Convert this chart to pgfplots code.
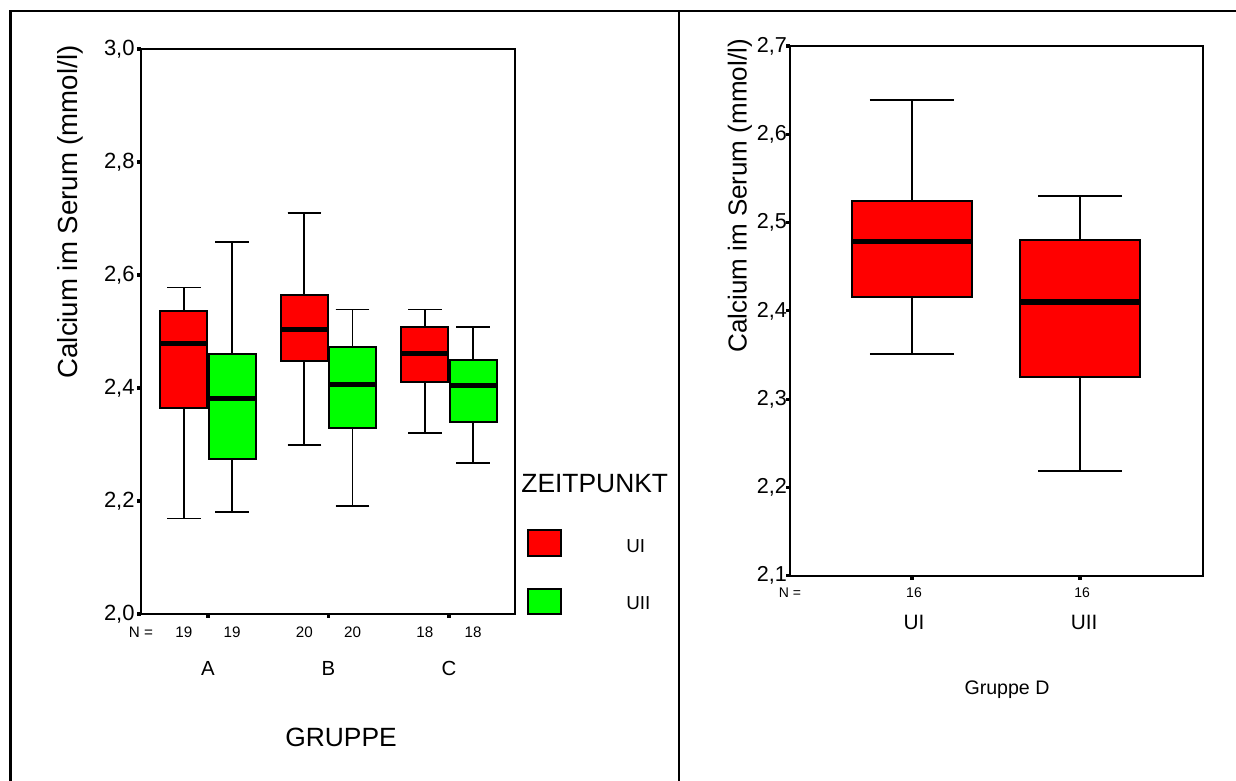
\documentclass[border=0pt]{standalone}
\usepackage{pgfplots}
\pgfplotsset{compat=1.18}
\usepgfplotslibrary{statistics}
\usepackage{fontspec}
\setmainfont{Liberation Sans}
\definecolor{spssred}{RGB}{255,0,0}
\definecolor{spssgreen}{RGB}{0,255,0}
\newcommand{\fs}[1]{\fontsize{#1}{#1}\selectfont}
\pgfplotsset{
  spss/.style={
    scale only axis, clip=false,
    axis line style={line width=1pt},
    tick align=outside,
    major tick length=2pt,
    tick style={black, line width=1.6pt},
    xtick pos=left, ytick pos=left,
    xticklabels={},
    boxplot/draw direction=y,
    boxplot/every box/.style={draw=black, line width=1pt},
    boxplot/every whisker/.style={black, line width=0.9pt},
    boxplot/every median/.style={black, line width=2.6pt},
    yticklabel style={/pgf/number format/.cd, fixed, fixed zerofill, precision=1, use comma, assume math mode=true, /tikz/.cd, anchor=east, inner sep=0pt},
  }
}
\begin{document}
\begin{tikzpicture}
\path[use as bounding box] (0,0) rectangle (618pt,390.5pt);
% frame
\draw[line width=1.3pt] (5.2pt,0) -- (5.2pt,385pt) -- (618pt,385pt);
\draw[line width=1.2pt] (339.5pt,0) -- (339.5pt,385pt);

% ---------------- left panel ----------------
\begin{axis}[spss, at={(70.5pt,83.5pt)}, anchor=south west,
  width=187pt, height=282.5pt,
  xmin=0.444, xmax=3.548, ymin=2.0, ymax=3.0,
  ytick={2,2.2,2.4,2.6,2.8,3},
  xtick={1,2,3},
  yticklabel style={font=\fs{11}, xshift=-1pt},
]
% Gruppe A
\addplot[fill=spssred, draw=black, boxplot prepared={draw position=0.8,
  lower whisker=2.169, lower quartile=2.365, median=2.479, upper quartile=2.536, upper whisker=2.578,
  box extend=0.39, whisker extend=0.28}] coordinates {};
\addplot[fill=spssgreen, draw=black, boxplot prepared={draw position=1.2,
  lower whisker=2.181, lower quartile=2.274, median=2.382, upper quartile=2.460, upper whisker=2.659,
  box extend=0.39, whisker extend=0.28}] coordinates {};
% Gruppe B
\addplot[fill=spssred, draw=black, boxplot prepared={draw position=1.8,
  lower whisker=2.299, lower quartile=2.448, median=2.503, upper quartile=2.564, upper whisker=2.710,
  box extend=0.39, whisker extend=0.28}] coordinates {};
\addplot[fill=spssgreen, draw=black, boxplot prepared={draw position=2.2,
  lower whisker=2.191, lower quartile=2.330, median=2.406, upper quartile=2.473, upper whisker=2.539,
  box extend=0.39, whisker extend=0.28}] coordinates {};
% Gruppe C
\addplot[fill=spssred, draw=black, boxplot prepared={draw position=2.8,
  lower whisker=2.320, lower quartile=2.411, median=2.461, upper quartile=2.508, upper whisker=2.539,
  box extend=0.39, whisker extend=0.28}] coordinates {};
\addplot[fill=spssgreen, draw=black, boxplot prepared={draw position=3.2,
  lower whisker=2.267, lower quartile=2.340, median=2.405, upper quartile=2.449, upper whisker=2.508,
  box extend=0.39, whisker extend=0.28}] coordinates {};

\node[anchor=base, font=\fs{7.6}] at ([yshift=-12pt]axis cs:0.444,2) {N =};
\node[anchor=base, font=\fs{7.6}] at ([yshift=-12pt]axis cs:0.8,2) {19};
\node[anchor=base, font=\fs{7.6}] at ([yshift=-12pt]axis cs:1.2,2) {19};
\node[anchor=base, font=\fs{7.6}] at ([yshift=-12pt]axis cs:1.8,2) {20};
\node[anchor=base, font=\fs{7.6}] at ([yshift=-12pt]axis cs:2.2,2) {20};
\node[anchor=base, font=\fs{7.6}] at ([yshift=-12pt]axis cs:2.8,2) {18};
\node[anchor=base, font=\fs{7.6}] at ([yshift=-12pt]axis cs:3.2,2) {18};
\node[anchor=base, font=\fs{10.2}] at ([yshift=-31pt]axis cs:1,2) {A};
\node[anchor=base, font=\fs{10.2}] at ([yshift=-31pt]axis cs:2,2) {B};
\node[anchor=base, font=\fs{10.2}] at ([yshift=-31pt]axis cs:3,2) {C};
\end{axis}

\node[rotate=90, font=\fs{13.8}] at (35pt,284.5pt) {Calcium im Serum (mmol/l)};
\node[anchor=base, font=\fs{13.2}] at (170.5pt,17.25pt) {GRUPPE};

% legend
\node[anchor=base west, inner sep=0pt, font=\fs{13.2}] at (260.5pt,144.25pt) {ZEITPUNKT};
\draw[fill=spssred, draw=black, line width=0.8pt] (264pt,112.5pt) rectangle (280.5pt,125.5pt);
\draw[fill=spssgreen, draw=black, line width=0.8pt] (264pt,83.5pt) rectangle (280.5pt,96pt);
\node[anchor=base west, inner sep=0pt, font=\fs{9.4}] at (313pt,114pt) {UI};
\node[anchor=base west, inner sep=0pt, font=\fs{9.4}] at (313pt,85.5pt) {UII};

% ---------------- right panel ----------------
\begin{axis}[spss, at={(395pt,102.65pt)}, anchor=south west,
  width=206.35pt, height=264.85pt,
  xmin=0.274, xmax=2.730, ymin=2.1, ymax=2.7,
  ytick={2.1,2.2,2.3,2.4,2.5,2.6,2.7},
  xtick={1,2},
  yticklabel style={font=\fs{10.8}, xshift=0.6pt},
]
\addplot[fill=spssred, draw=black, boxplot prepared={draw position=1,
  lower whisker=2.351, lower quartile=2.416, median=2.479, upper quartile=2.524, upper whisker=2.639,
  box extend=0.714, whisker extend=0.5}] coordinates {};
\addplot[fill=spssred, draw=black, boxplot prepared={draw position=2,
  lower whisker=2.219, lower quartile=2.325, median=2.410, upper quartile=2.480, upper whisker=2.530,
  box extend=0.714, whisker extend=0.5}] coordinates {};

\node[anchor=base, font=\fs{7}] at ([yshift=-11.15pt]axis cs:0.274,2.1) {N =};
\node[anchor=base, font=\fs{7}] at ([yshift=-11.15pt, xshift=1pt]axis cs:1,2.1) {16};
\node[anchor=base, font=\fs{7}] at ([yshift=-11.15pt, xshift=1pt]axis cs:2,2.1) {16};
\node[anchor=base, font=\fs{10.4}] at ([yshift=-27.15pt, xshift=1pt]axis cs:1,2.1) {UI};
\node[anchor=base, font=\fs{10.4}] at ([yshift=-27.15pt, xshift=2pt]axis cs:2,2.1) {UII};
\end{axis}

\node[rotate=90, font=\fs{13}] at (370pt,292.5pt) {Calcium im Serum (mmol/l)};
\node[anchor=base, font=\fs{9.8}] at (503.5pt,43pt) {Gruppe D};
\end{tikzpicture}
\end{document}
